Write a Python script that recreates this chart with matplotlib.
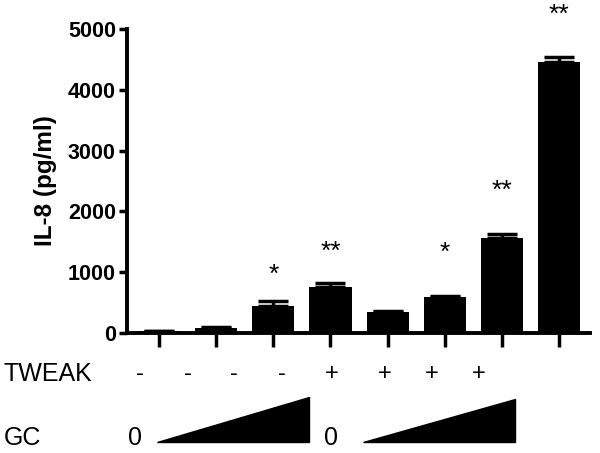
import matplotlib
matplotlib.use("Agg")
import matplotlib.pyplot as plt
from matplotlib.patches import Polygon

plt.rcParams['font.family'] = ['Liberation Sans', 'DejaVu Sans']

# data
il8 = [30, 90, 445, 760, 345, 590, 1565, 4455]
err = [10, 15, 75, 70, 15, 25, 65, 85]
stars = ["", "", "*", "**", "", "*", "**", "**"]
star_y = [0, 0, 960, 1340, 0, 1310, 2330, 5240]
tweak = ["-", "-", "-", "-", "+", "+", "+", "+"]
yticks = [0, 1000, 2000, 3000, 4000, 5000]

fig = plt.figure(figsize=(6, 4.53), dpi=100)
ax = fig.add_axes([127 / 600, 120 / 453, 463 / 600, 304 / 453])

x = list(range(len(il8)))
ax.bar(x, il8, width=0.74, color="black")
ax.errorbar(x, il8, yerr=[[0] * len(err), err], fmt="none", ecolor="black",
            elinewidth=2.5, capsize=11, capthick=2.5)

for xi, s, sy in zip(x, stars, star_y):
    if s:
        ax.text(xi, sy, s, ha="center", va="center", fontsize=19, clip_on=False)

ax.set_xlim(-0.56, 7.54)
ax.set_ylim(0, 5000)
ax.set_yticks(yticks)
ax.set_yticklabels([str(t) for t in yticks], fontsize=15.5, fontweight="bold")
ax.set_xticks(x)
ax.set_xticklabels([])
ax.set_ylabel("IL-8 (pg/ml)", fontsize=17.5, fontweight="bold", labelpad=8)
for side in ["top", "right"]:
    ax.spines[side].set_visible(False)
for side in ["left", "bottom"]:
    ax.spines[side].set_linewidth(2.8)
ax.tick_params(axis="y", length=6, width=2.5, pad=2)
ax.tick_params(axis="x", length=10, width=2.5)

# condition rows below the chart
fig.text(4 / 600, 1 - 374 / 453, "TWEAK", fontsize=18, va="center", ha="left")
tweak_x = [140, 188, 234, 282, 332, 385, 432, 479]
for tx, t in zip(tweak_x, tweak):
    fig.text(tx / 600, 1 - 374 / 453, t, fontsize=17, va="center", ha="center")

fig.text(4 / 600, 1 - 438 / 453, "GC", fontsize=18, va="center", ha="left")
fig.text(135 / 600, 1 - 438 / 453, "0", fontsize=18, va="center", ha="center")
fig.text(331 / 600, 1 - 438 / 453, "0", fontsize=18, va="center", ha="center")
for x0, x1, ytop in [(157, 309, 397), (363, 515, 399)]:
    tri = Polygon([(x0 / 600, 1 - 442 / 453), (x1 / 600, 1 - 442 / 453),
                   (x1 / 600, 1 - ytop / 453)], closed=True,
                  transform=fig.transFigure, color="black")
    fig.patches.append(tri)

fig.savefig("out.png", dpi=100)
